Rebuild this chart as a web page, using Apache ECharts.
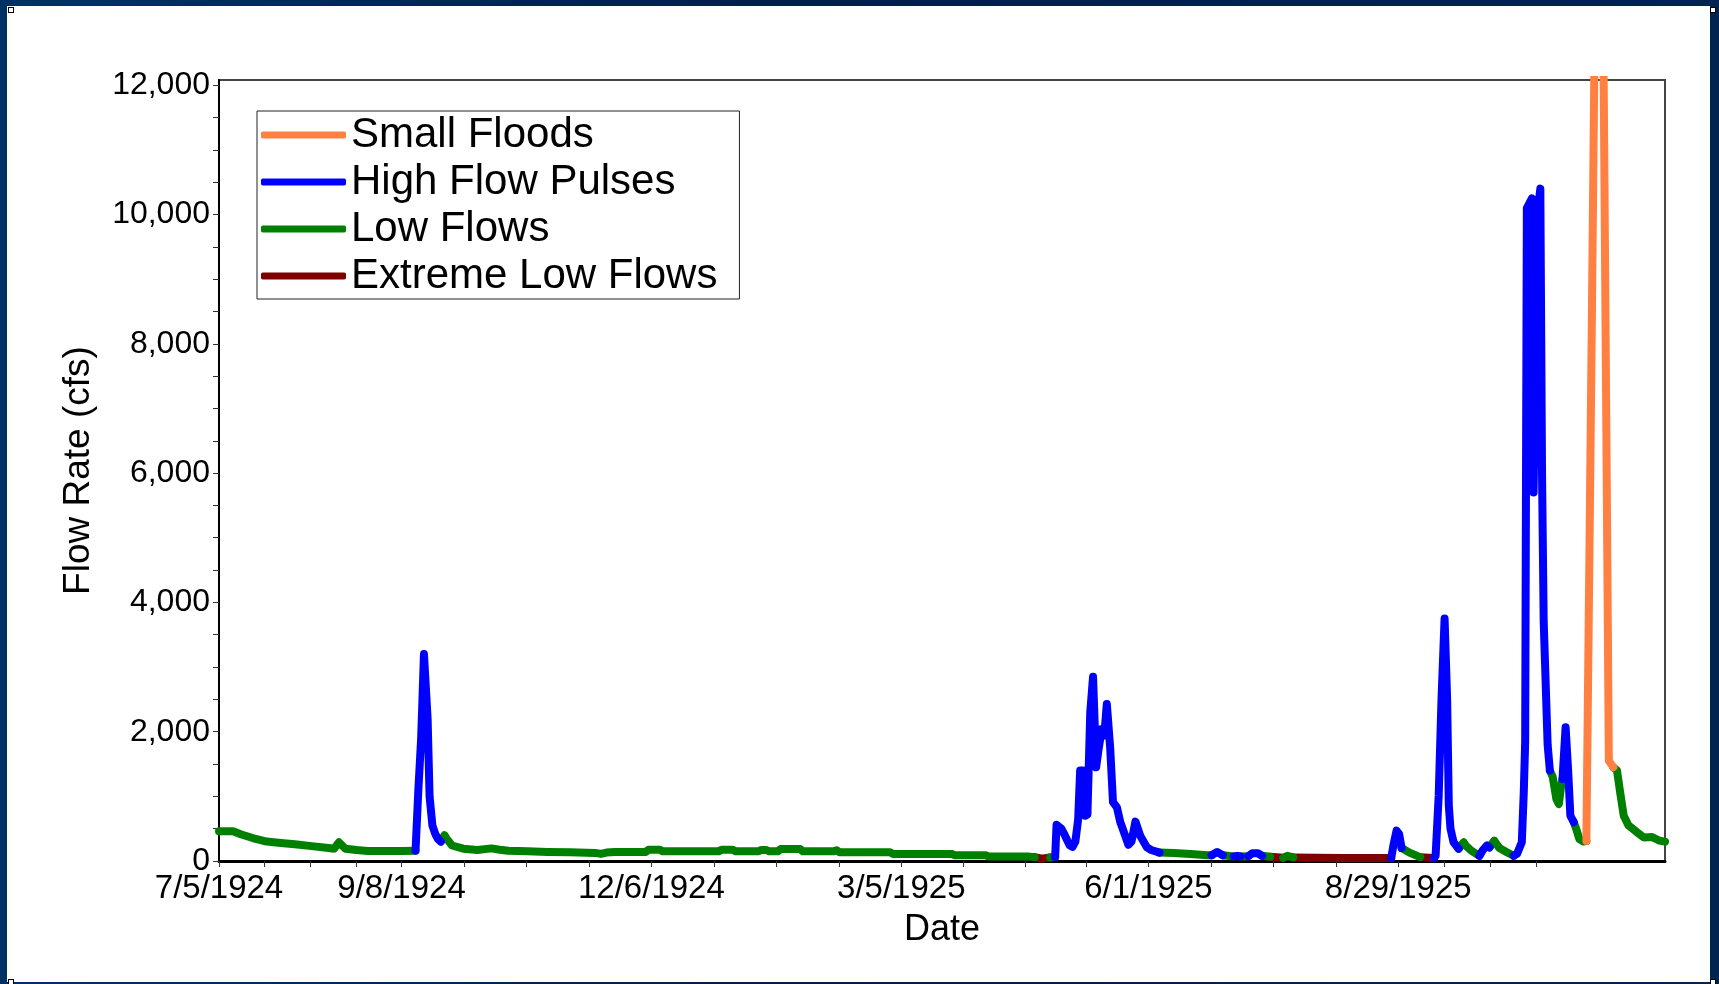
<!DOCTYPE html>
<html>
<head>
<meta charset="utf-8">
<title>Flow Rate</title>
<script src="https://cdn.jsdelivr.net/npm/echarts@6/dist/echarts.min.js"></script>
<style>
html, body { margin: 0; padding: 0; width: 1719px; height: 984px; overflow: hidden; }
body { background: linear-gradient(to right, #003165, #001f47 45%, #00234f); }
.slide { position: absolute; left: 7px; top: 6px; width: 1703px; height: 976px; background: #fff; }
.handle { position: absolute; width: 4px; height: 4px; background: #fff; border: 1px solid #000; }
#chart { position: absolute; left: 0; top: 0; width: 1719px; height: 984px; }
</style>
</head>
<body>
<div class="slide"></div>
<div class="handle" style="left:8px; top:7px"></div>
<div class="handle" style="left:1710px; top:7px"></div>
<div class="handle" style="left:8px; top:979px"></div>
<div class="handle" style="left:1710px; top:979px"></div>
<div id="chart"></div>
<script>
// x = days since 7/5/1924, y = flow (cfs)
const dateLabels = ['7/5/1924', '9/8/1924', '12/6/1924', '3/5/1925', '6/1/1925', '8/29/1925']
const labelDays = [0, 65, 154, 243, 331, 420]
const tickDays = [0, 16.25, 32.5, 48.75, 65, 87.25, 109.5, 131.75, 154, 176.25, 198.5, 220.75, 243,
  265, 287, 309, 331, 353.25, 375.5, 397.75, 420, 436.4, 452.8, 469.2]
const flowLabels = [0, 2000, 4000, 6000, 8000, 10000, 12000]
const flowTicks = [0, 500, 1000, 1500, 2000, 2500, 3000, 3500, 4000, 4500, 5000, 5500, 6000, 6500,
  7000, 7500, 8000, 8500, 9000, 9500, 10000, 10500, 11000, 11500, 12000]

const lowFlows = [
  [[0,460],[5,460],[8,410],[12,355],[17,300],[22,280],[27,260],[33,230],[39,200],[41,190],[42.7,290],
   [45,190],[49,170],[53,155],[60,155],[65,155],[70,160]],
  [[79,300],[80.3,400],[81,350],[83,240],[87,190],[92,170],[97,195],[100,175],[103,160],[110,150],
   [117,140],[125,135],[134,125],[136,110],[138,130],[141,140],[148,140],[152,140],[153,175],[157,175],
   [158,150],[178,150],[179,175],[183,175],[184,150],[192,150],[193,170],[195,170],[196,150],[199,150],
   [200,185],[207,185],[208,150],[219,150],[220,165],[221,135],[239,135],[240,110],[261,110],[262,90],
   [273,90],[274,70],[288,70],[290.5,60]],
  [[296,55],[297.8,60]],
  [[335,130],[340,125],[346,110],[352,90],[353.5,90]],
  [[357.5,90],[361.5,70]],
  [[363.8,70],[366.6,75]],
  [[371.5,80],[374.4,65]],
  [[379,50],[380.5,80],[382.6,55]],
  [[421.2,200],[424,130],[427.8,60]],
  [[441.5,190],[442.3,240],[443.3,290],[444,240],[446,160],[448.9,80]],
  [[452.5,210],[454.2,315],[456,200],[458.5,140],[461.1,80]],
  [[474,1400],[475,1300],[476.3,960],[477.2,880],[478,1160],[478.5,1270]],
  [[482.5,600],[483.5,480],[484.5,340],[486,300],[487,310]],
  [[496.6,1450],[497.9,1400],[499,1070],[500.3,700],[502,550],[505,445],[507.4,365],[510.4,370],
   [511.8,340],[513,315],[515,300]]
]

const highFlowPulses = [
  [[70,160],[71,1100],[72,1900],[73,3200],[73.6,3200],[74.3,2200],[75,1000],[76,550],[77,420],[78,340],[79,300]],
  [[297.8,60],[298.3,560],[300,500],[301,420],[302,330],[303,240],[304,220],[305,300],[306,650],
   [306.7,1400],[307.8,1400],[308.5,700],[309.3,720],[310.3,2300],[311.3,2850],[312.4,1450],[313.3,1740],
   [314.4,2040],[315.3,1940],[316.2,2430],[317.4,1750],[318.4,910],[319.8,830],[321,600],[322,480],
   [323.9,250],[325,300],[326.4,610],[328.1,390],[330.5,210],[332,170],[335,130]],
  [[353.5,90],[355.5,140],[357.5,90]],
  [[361.5,70],[362.7,80],[363.8,70]],
  [[366.6,75],[368,120],[370,120],[371.5,80]],
  [[417.5,45],[418.3,250],[419.4,470],[420.3,420],[421.2,200]],
  [[432.7,45],[433.3,80],[434.4,1010],[435.4,2500],[436.5,3750],[437.4,2510],[438,860],[438.6,500],
   [439.7,290],[441.5,190]],
  [[448.9,80],[450,160],[451.6,240],[452.5,210]],
  [[461.1,80],[462.3,110],[464,290],[464.7,1060],[465.2,1840],[465.8,10100],[467.6,10250],[468.2,5700],
   [469.5,10000],[470.6,10400],[471.2,6000],[471.8,3700],[473.2,1800],[474,1400]],
  [[478.5,1270],[479.6,2070],[480.5,1400],[481.3,700],[482.5,600]]
]

const extremeLowFlows = [
  [[290.5,60],[293,35],[296,55]],
  [[374.4,65],[379,50]],
  [[382.6,55],[400,45],[417.5,45]],
  [[427.8,60],[432.7,45]]
]

const smallFloods = [
  [[487,310],[488,4400],[489,8600],[490,13000],[491,16000],[492,15000],[493,13000],[494,7300],
   [495,1550],[496.6,1450]]
]

const font = 'Arial, "Liberation Sans", sans-serif'

// join segments with a gap point so each run is drawn on its own
function toLine(segments) {
  var out = []
  segments.forEach(function (seg, i) {
    if (i > 0) out.push([seg[0][0], '-'])
    seg.forEach(function (p) { out.push(p) })
  })
  return out
}

function makeSeries(name, color, segments, z) {
  return {
    name: name,
    type: 'line',
    data: toLine(segments),
    itemStyle: { color: color },
    symbol: 'none',
    showSymbol: false,
    connectNulls: false,
    z: z,
    lineStyle: { color: color, width: 8, cap: 'round', join: 'round' }
  }
}

var chartDom = document.getElementById('chart')
var myChart = echarts.init(chartDom)
var option

option = {
  animation: false,
  backgroundColor: 'transparent',
  grid: {
    left: 219, top: 80, right: 54, bottom: 123,
    show: true, borderColor: '#444', borderWidth: 2
  },
  legend: {
    data: ['Small Floods', 'High Flow Pulses', 'Low Flows', 'Extreme Low Flows'],
    orient: 'vertical',
    left: 257,
    top: 111,
    icon: 'roundRect',
    itemWidth: 85,
    itemHeight: 7,
    itemGap: 5,
    padding: [3, 22, 2, 4],
    borderColor: '#222',
    borderWidth: 1,
    backgroundColor: '#fff',
    selectedMode: false,
    textStyle: { fontSize: 42, lineHeight: 42, color: '#000', fontFamily: font }
  },
  xAxis: {
    type: 'value',
    min: 0,
    max: 515,
    name: 'Date',
    nameLocation: 'middle',
    nameGap: 51,
    nameTextStyle: { fontSize: 36, color: '#000', fontFamily: font },
    axisLine: { lineStyle: { color: '#000', width: 3 } },
    axisTick: { customValues: tickDays, length: 6, lineStyle: { color: '#333', width: 1 } },
    axisLabel: {
      customValues: labelDays,
      margin: 11,
      fontSize: 33,
      color: '#000',
      fontFamily: font,
      formatter: function (v) {
        var i = labelDays.indexOf(v)
        return i >= 0 ? dateLabels[i] : ''
      }
    },
    splitLine: { show: false }
  },
  yAxis: {
    type: 'value',
    min: 0,
    max: 12080,
    name: 'Flow Rate (cfs)',
    nameLocation: 'middle',
    nameGap: 122,
    nameTextStyle: { fontSize: 37, color: '#000', fontFamily: font },
    axisLine: { show: true, lineStyle: { color: '#000', width: 2 } },
    axisTick: { show: true, customValues: flowTicks, length: 6, lineStyle: { color: '#333', width: 1 } },
    axisLabel: {
      customValues: flowLabels,
      margin: 9,
      fontSize: 32,
      color: '#000',
      fontFamily: font,
      formatter: function (v) { return v.toString().replace(/\B(?=(\d{3})+(?!\d))/g, ',') }
    },
    splitLine: { show: false }
  },
  series: [
    makeSeries('Extreme Low Flows', '#800000', extremeLowFlows, 2),
    makeSeries('Low Flows', '#008000', lowFlows, 3),
    makeSeries('High Flow Pulses', '#0000ff', highFlowPulses, 4),
    makeSeries('Small Floods', '#ff8040', smallFloods, 5)
  ]
}

option && myChart.setOption(option)
</script>
</body>
</html>
